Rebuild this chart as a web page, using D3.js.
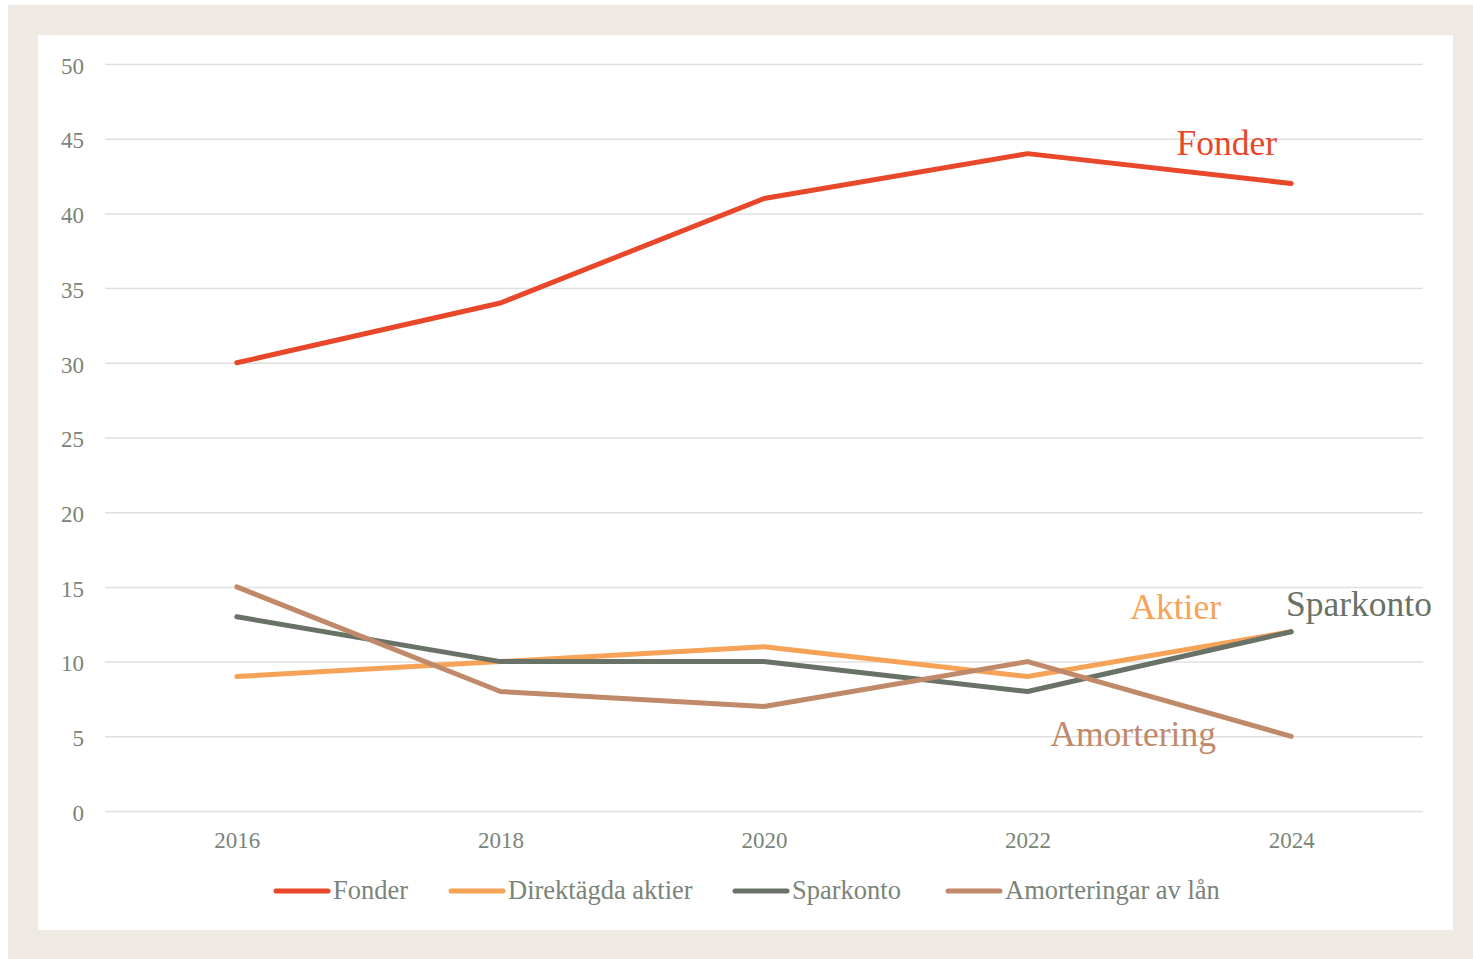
<!DOCTYPE html>
<html><head><meta charset="utf-8">
<script src="https://cdn.jsdelivr.net/npm/d3@7"></script>
<style>body{margin:0;background:#fff}svg{display:block}</style>
</head><body>
<svg id="c" width="1473" height="959"></svg>
<script>
const years = ["2016","2018","2020","2022","2024"];
const yTicks = [0,5,10,15,20,25,30,35,40,45,50];
const fonder = [30,34,41,44,42];
const aktier = [9,10,11,9,12];
const sparkonto = [13,10,10,8,12];
const amortering = [15,8,7,10,5];
const seriesNames = ["Fonder","Direktägda aktier","Sparkonto","Amorteringar av lån"];
const endLabels = ["Fonder","Aktier","Sparkonto","Amortering"];

const colors = ["#E8472A","#F6A257","#697266","#C08969"];
const series = [fonder, aktier, sparkonto, amortering].map((v,i)=>({name:seriesNames[i], label:endLabels[i], values:v, color:colors[i]}));

const FONT = "'Liberation Serif', 'DejaVu Serif', serif";
const svg = d3.select("#c");
svg.append("rect").attr("x",8).attr("y",5).attr("width",1465).attr("height",954).attr("fill","#EEEAE3");
svg.append("rect").attr("x",38).attr("y",35).attr("width",1415).attr("height",895).attr("fill","#fff");

const x = d3.scalePoint().domain(years).range([105,1423]).padding(0.5);
const y = d3.scaleLinear().domain([0,50]).range([811,64]);

// grid
const gy = svg.append("g").attr("transform","translate(105,0)")
  .call(d3.axisLeft(y).tickValues(yTicks).tickSize(-1318).tickPadding(21).tickFormat(d3.format("d")));
gy.select(".domain").remove();
gy.selectAll(".tick line").attr("stroke","#E0E0E0").attr("stroke-width",1.5);
gy.selectAll(".tick text").attr("fill","#7A8478").attr("font-family",FONT).attr("font-size",23).attr("dy","0.4em");

const gx = svg.append("g").attr("transform","translate(0,811)")
  .call(d3.axisBottom(x).tickSize(0).tickPadding(21));
gx.select(".domain").remove();
gx.selectAll(".tick text").attr("fill","#7A8478").attr("font-family",FONT).attr("font-size",23);

const line = d3.line().x((d,i)=>x(years[i])).y(d=>y(d));
series.forEach(s=>{
  svg.append("path").attr("d",line(s.values)).attr("fill","none").attr("stroke",s.color)
    .attr("stroke-width",5).attr("stroke-linecap","round").attr("stroke-linejoin","round");
});

// end labels
const lab = [
  {i:0, x:1277, y:155, anchor:"end"},
  {i:1, x:1221, y:619, anchor:"end"},
  {i:2, x:1286, y:616, anchor:"start"},
  {i:3, x:1216, y:746, anchor:"end"}
];
lab.forEach(l=>{
  svg.append("text").attr("x",l.x).attr("y",l.y).attr("text-anchor",l.anchor)
    .attr("fill",series[l.i].color).attr("font-family",FONT).attr("font-size",35.5).text(series[l.i].label);
});

// legend
const legX = [274,449,733,946];
series.forEach((s,i)=>{
  const g = svg.append("g").attr("transform",`translate(${legX[i]},891)`);
  g.append("line").attr("x1",2).attr("x2",54).attr("y1",0).attr("y2",0).attr("stroke",s.color)
    .attr("stroke-width",5).attr("stroke-linecap","round");
  g.append("text").attr("x",59).attr("y",8).attr("fill","#7A8478").attr("font-family",FONT)
    .attr("font-size",26.5).text(s.name);
});
</script>
</body></html>
